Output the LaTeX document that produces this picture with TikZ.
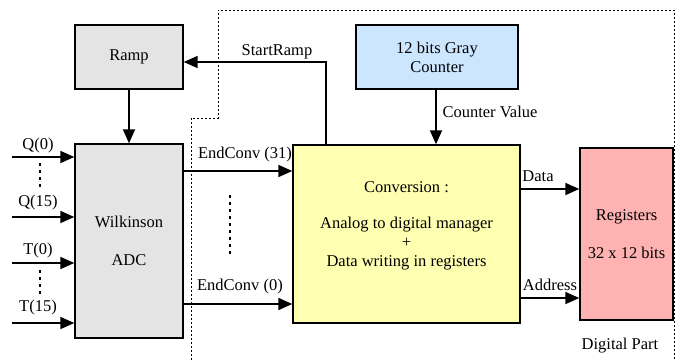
\documentclass[tikz,border=0pt]{standalone}
\usepackage{fontspec}
\setmainfont{Liberation Serif}
\usetikzlibrary{arrows.meta}
\definecolor{boxgray}{RGB}{228,228,228}
\definecolor{boxblue}{RGB}{204,230,255}
\definecolor{boxyellow}{RGB}{255,255,178}
\definecolor{boxpink}{RGB}{255,178,178}
\begin{document}
\begin{tikzpicture}[x=1pt,y=-1pt,
  every node/.style={font=\rmfamily\fontsize{16.5}{19}\selectfont},
  blk/.style={draw,line width=1.4pt,inner sep=0pt,align=center},
  arr/.style={line width=1.8pt,-{Triangle[length=14pt,width=12pt]}},
  lbl/.style={inner sep=0pt},
  vdots/.style={line width=2.2pt,dash pattern=on 3pt off 4pt},
  border/.style={line width=0.8pt,dash pattern=on 2pt off 2pt}]
\useasboundingbox (0,0) rectangle (680,360);
% boundary
\draw[border] (191,360) -- (191,118) -- (218,118) -- (218,10) -- (674,10) -- (674,360);
% blocks
\node[blk,fill=boxgray,minimum width=108pt,minimum height=64pt] (ramp) at (129,57) {Ramp};
\node[blk,fill=boxgray,minimum width=108pt,minimum height=194pt] (adc) at (129,241) {Wilkinson\\[19pt]ADC};
\node[blk,fill=boxblue,minimum width=162pt,minimum height=64pt] (cnt) at (437,57) {12 bits Gray\\Counter};
\node[blk,fill=boxyellow,minimum width=227pt,minimum height=178pt] (conv) at (406.5,234) {};
\node[lbl] (convt) at (406.5,187) {Conversion :};
\node[lbl,align=center] (convb) at (406.5,244) {Analog to digital manager\\+\\Data writing in registers};
\node[blk,fill=boxpink,minimum width=93pt,minimum height=172pt] (reg) at (626.5,234) {Registers\\[19pt]32 x 12 bits};
% ramp to adc
\draw[arr] (ramp.south) -- (adc.north);
% start ramp
\coordinate (sr) at (326,62);
\draw[arr] (conv.north -| sr) -- (sr) -- (sr -| ramp.east);
\node[lbl] (srl) at (277,52) {StartRamp};
% counter value
\draw[arr] (cnt.south -| 436,0) -- (conv.north -| 436,0);
\node[lbl] (cvl) at (490,112) {Counter Value};
% inputs
\foreach \nm/\yy/\txt/\ly in {q0/157/Q(0)/146, q15/217/Q(15)/203, t0/263/T(0)/251, t15/323/T(15)/308}{
  \coordinate (\nm) at (12,\yy);
  \draw[arr] (\nm) -- (\nm -| adc.west);
  \node[lbl] (\nm l) at (38,\ly) {\txt};
}
\draw[vdots] (40,163) -- (40,190);
\draw[vdots] (40,270) -- (40,296);
% end conv
\coordinate (ec31) at (183,171);
\draw[arr] (ec31 -| adc.east) -- (ec31 -| conv.west);
\node[lbl] (ec31l) at (245,155) {EndConv (31)};
\coordinate (ec0) at (183,304);
\draw[arr] (ec0 -| adc.east) -- (ec0 -| conv.west);
\node[lbl] (ec0l) at (240,287) {EndConv (0)};
\draw[vdots,line width=2.6pt] (230,195) -- (230,257);
% data / address
\coordinate (dt) at (520,189);
\draw[arr] (dt -| conv.east) -- (dt -| reg.west);
\node[lbl] (dtl) at (538,176) {Data};
\coordinate (ad) at (520,298);
\draw[arr] (ad -| conv.east) -- (ad -| reg.west);
\node[lbl] (adl) at (550,285) {Address};
\node[lbl] (dp) at (620,346) {Digital Part};
\end{tikzpicture}
\end{document}
